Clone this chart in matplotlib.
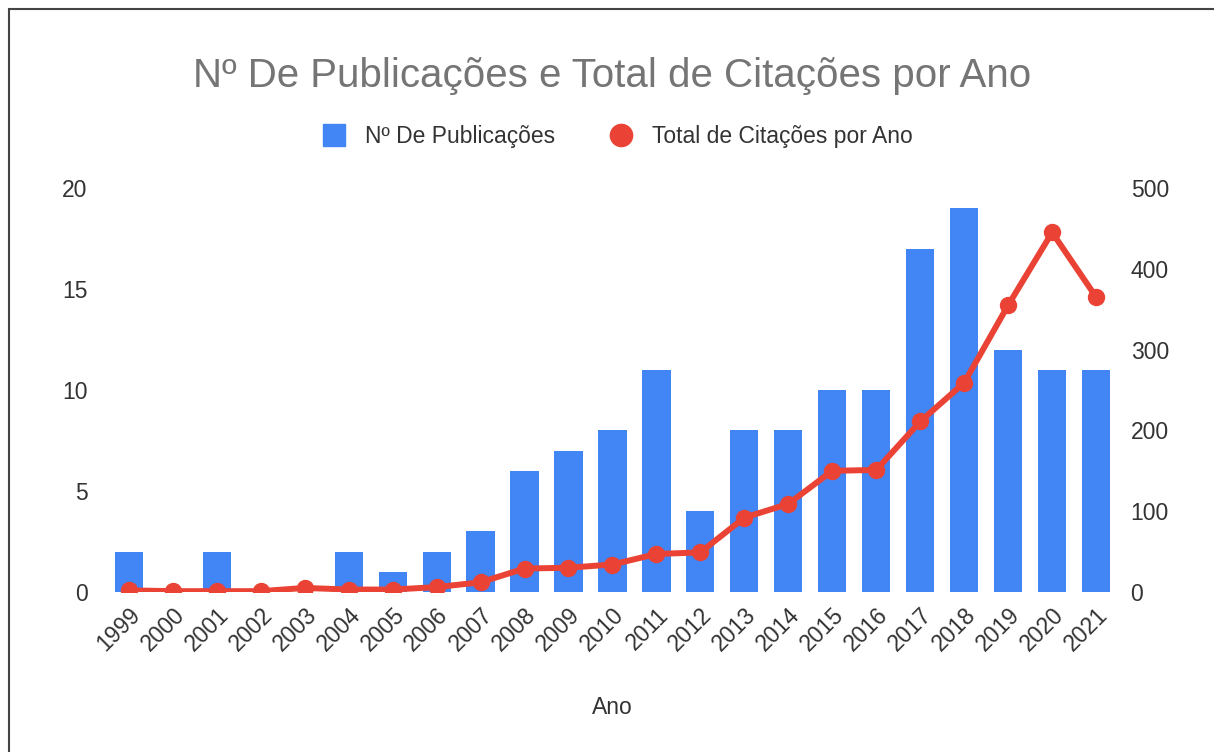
import matplotlib.pyplot as plt
from matplotlib.lines import Line2D
from matplotlib.patches import Rectangle

plt.rcParams['font.family'] = ['Liberation Sans', 'DejaVu Sans']

anos = [str(a) for a in range(1999, 2022)]
publicacoes = [2, 0, 2, 0, 0, 2, 1, 2, 3, 6, 7, 8, 11, 4, 8, 8, 10, 10, 17, 19, 12, 11, 11]
citacoes = [2, 1, 1, 1, 5, 3, 3, 6, 12, 29, 30, 34, 47, 49, 92, 109, 150, 151, 211, 259, 355, 445, 365]

azul = '#4285F4'
vermelho = '#EA4335'
texto = '#333333'

fig = plt.figure(figsize=(12.14, 7.52), dpi=100)
ax = fig.add_axes([0.088, 0.2128, 0.833, 0.5372])
ax2 = ax.twinx()

x = range(len(anos))
ax.bar(x, publicacoes, width=0.64, color=azul, zorder=2)
ax2.plot(x, citacoes, color=vermelho, lw=4.3, marker='o', markersize=11.5, zorder=3)

ax.set_ylim(0, 20)
ax2.set_ylim(0, 500)
ax.set_xlim(-0.5, len(anos) - 0.5)
ax.set_yticks([0, 5, 10, 15, 20])
ax2.set_yticks([0, 100, 200, 300, 400, 500])

ax.set_xticks(list(x))
ax.set_xticklabels(anos, rotation=45, ha='right', rotation_mode='anchor')

for a in (ax, ax2):
    for s in a.spines.values():
        s.set_visible(False)
    a.tick_params(length=0, labelsize=16.5, colors=texto)
ax.tick_params(axis='y', pad=14)
ax2.tick_params(axis='y', pad=9)
ax.tick_params(axis='x', pad=8)

ax.set_xlabel('Ano', fontsize=16.5, color=texto, labelpad=29)

fig.text(0.504, 0.899, 'Nº De Publicações e Total de Citações por Ano',
         ha='center', va='center', fontsize=29, color='#757575')

handles = [
    Line2D([], [], lw=0, marker='s', markersize=16, color=azul),
    Line2D([], [], lw=0, marker='o', markersize=16, color=vermelho),
]
fig.legend(handles, ['Nº De Publicações', 'Total de Citações por Ano'],
           loc='center', bbox_to_anchor=(0.504, 0.819), ncol=2, frameon=False,
           fontsize=16.5, labelcolor=texto, handletextpad=0.35, columnspacing=1.9)

# moldura da captura
fig.patches.append(Rectangle((0.0075, -0.01), 1.2, 0.9975, transform=fig.transFigure,
                             fill=False, edgecolor='#444444', lw=1.5))

fig.savefig('out.png', dpi=100)
